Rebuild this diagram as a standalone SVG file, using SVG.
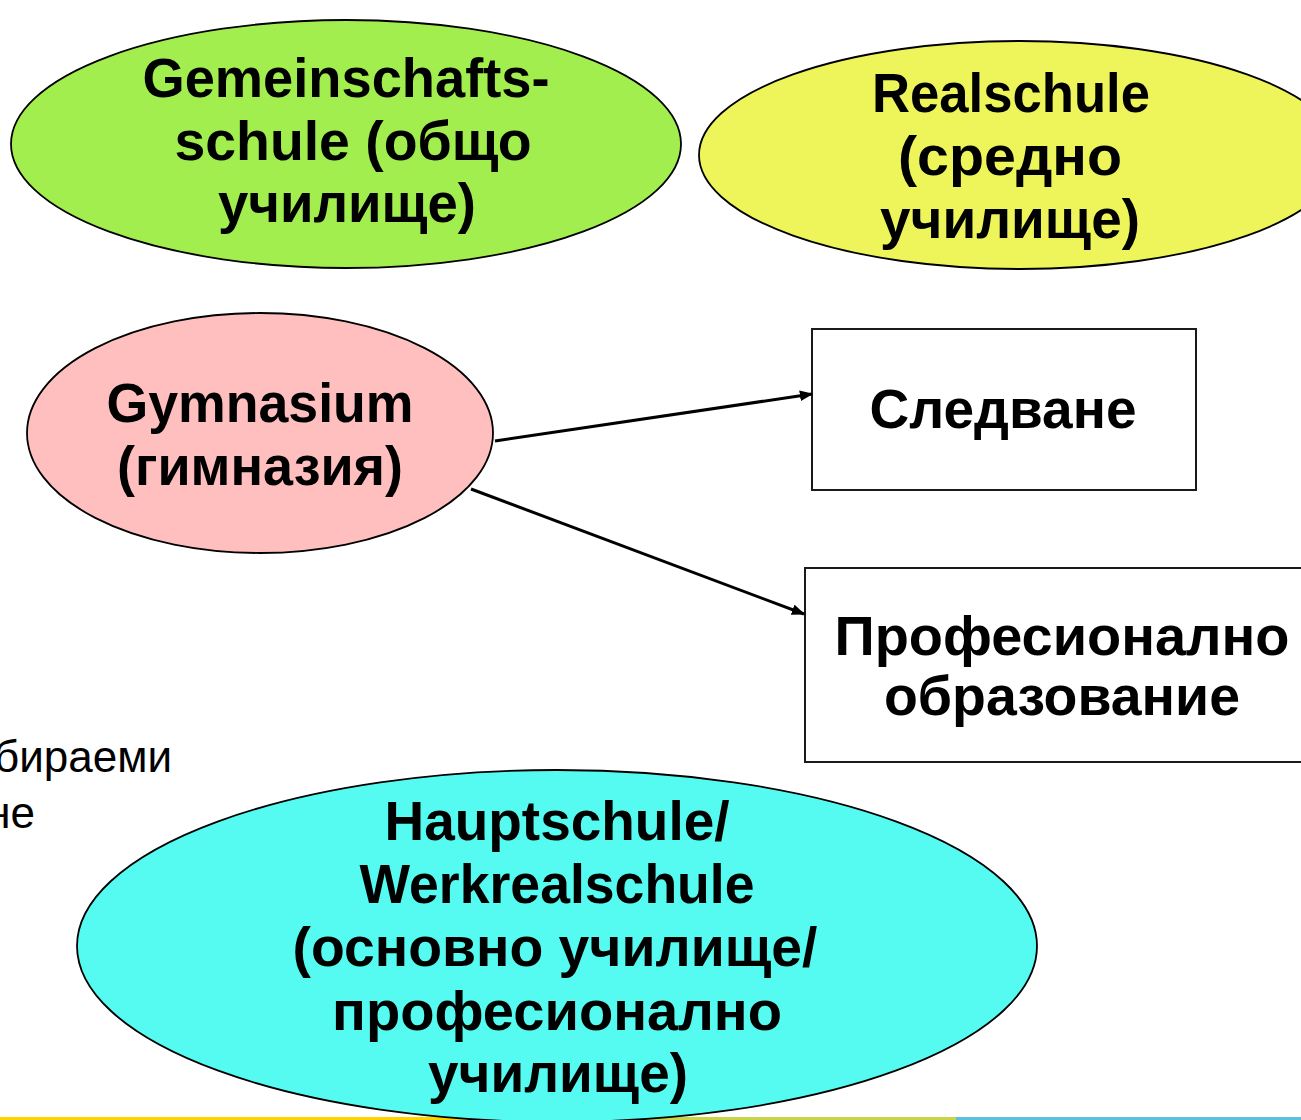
<svg xmlns="http://www.w3.org/2000/svg" width="1301" height="1120" viewBox="0 0 1301 1120">
  <style>
    .node { stroke: #000; stroke-width: 1.8; }
    .box { fill: #fff; stroke: #1a1a1a; stroke-width: 2; }
    .lbl { font-family: "Liberation Sans", Arial, sans-serif; font-weight: bold; font-size: 55px; fill: #000; text-anchor: middle; }
    .side { font-family: "Liberation Sans", Arial, sans-serif; font-size: 44px; fill: #000; text-anchor: end; }
    .conn { stroke: #000; stroke-width: 3; fill: none; marker-end: url(#arr); }
  </style>
  <defs>
    <marker id="arr" viewBox="0 0 10 8" refX="9" refY="4" markerWidth="4.5" markerHeight="3.6" orient="auto" markerUnits="strokeWidth">
      <path d="M0,0 L10,4 L0,8 Z" fill="#000"/>
    </marker>
  </defs>
  <rect width="1301" height="1120" fill="#fff"/>

  <g id="footer-band">
    <rect x="0" y="1117" width="560" height="3" fill="#FFD200"/>
    <rect x="560" y="1117" width="396" height="3" fill="#C8D44A"/>
    <rect x="956" y="1117" width="345" height="3" fill="#5BC0DE"/>
  </g>

  <g id="side-text">
    <text class="side" x="172" y="772">бираеми</text>
    <text class="side" x="35" y="828">не</text>
  </g>

  <g id="gemeinschaftsschule">
    <ellipse class="node" cx="346" cy="144" rx="335" ry="124" fill="#A2EE4E"/>
    <text class="lbl" x="346" y="97" textLength="407" lengthAdjust="spacingAndGlyphs">Gemeinschafts-</text>
    <text class="lbl" x="353" y="160" textLength="357" lengthAdjust="spacingAndGlyphs">schule (общо</text>
    <text class="lbl" x="347" y="222" textLength="258" lengthAdjust="spacingAndGlyphs">училище)</text>
  </g>

  <g id="realschule">
    <ellipse class="node" cx="1020" cy="155" rx="321" ry="114" fill="#EDF55A"/>
    <text class="lbl" x="1011" y="112" textLength="278" lengthAdjust="spacingAndGlyphs">Realschule</text>
    <text class="lbl" x="1010" y="175" textLength="224" lengthAdjust="spacingAndGlyphs">(средно</text>
    <text class="lbl" x="1010" y="238" textLength="260" lengthAdjust="spacingAndGlyphs">училище)</text>
  </g>

  <g id="gymnasium">
    <ellipse class="node" cx="260" cy="433" rx="233" ry="120" fill="#FFBFBF"/>
    <text class="lbl" x="260" y="422" textLength="307" lengthAdjust="spacingAndGlyphs">Gymnasium</text>
    <text class="lbl" x="260" y="485" textLength="286" lengthAdjust="spacingAndGlyphs">(гимназия)</text>
  </g>

  <g id="sledvane">
    <rect class="box" x="812" y="329" width="384" height="161"/>
    <text class="lbl" x="1003" y="428" textLength="267" lengthAdjust="spacingAndGlyphs">Следване</text>
  </g>

  <g id="profesionalno">
    <rect class="box" x="805" y="568" width="520" height="194"/>
    <text class="lbl" x="1062" y="655" textLength="455" lengthAdjust="spacingAndGlyphs">Професионално</text>
    <text class="lbl" x="1062" y="715" textLength="356" lengthAdjust="spacingAndGlyphs">образование</text>
  </g>

  <g id="hauptschule">
    <ellipse class="node" cx="557" cy="946" rx="480" ry="176" fill="#55FBF0"/>
    <text class="lbl" x="557" y="840" textLength="345" lengthAdjust="spacingAndGlyphs">Hauptschule/</text>
    <text class="lbl" x="557" y="903" textLength="395" lengthAdjust="spacingAndGlyphs">Werkrealschule</text>
    <text class="lbl" x="555" y="966" textLength="525" lengthAdjust="spacingAndGlyphs">(основно училище/</text>
    <text class="lbl" x="557" y="1030" textLength="450" lengthAdjust="spacingAndGlyphs">професионално</text>
    <text class="lbl" x="558" y="1092" textLength="260" lengthAdjust="spacingAndGlyphs">училище)</text>
  </g>

  <g id="connectors">
    <line class="conn" x1="495" y1="441" x2="812" y2="394"/>
    <line class="conn" x1="471" y1="489" x2="804" y2="614"/>
  </g>
</svg>
